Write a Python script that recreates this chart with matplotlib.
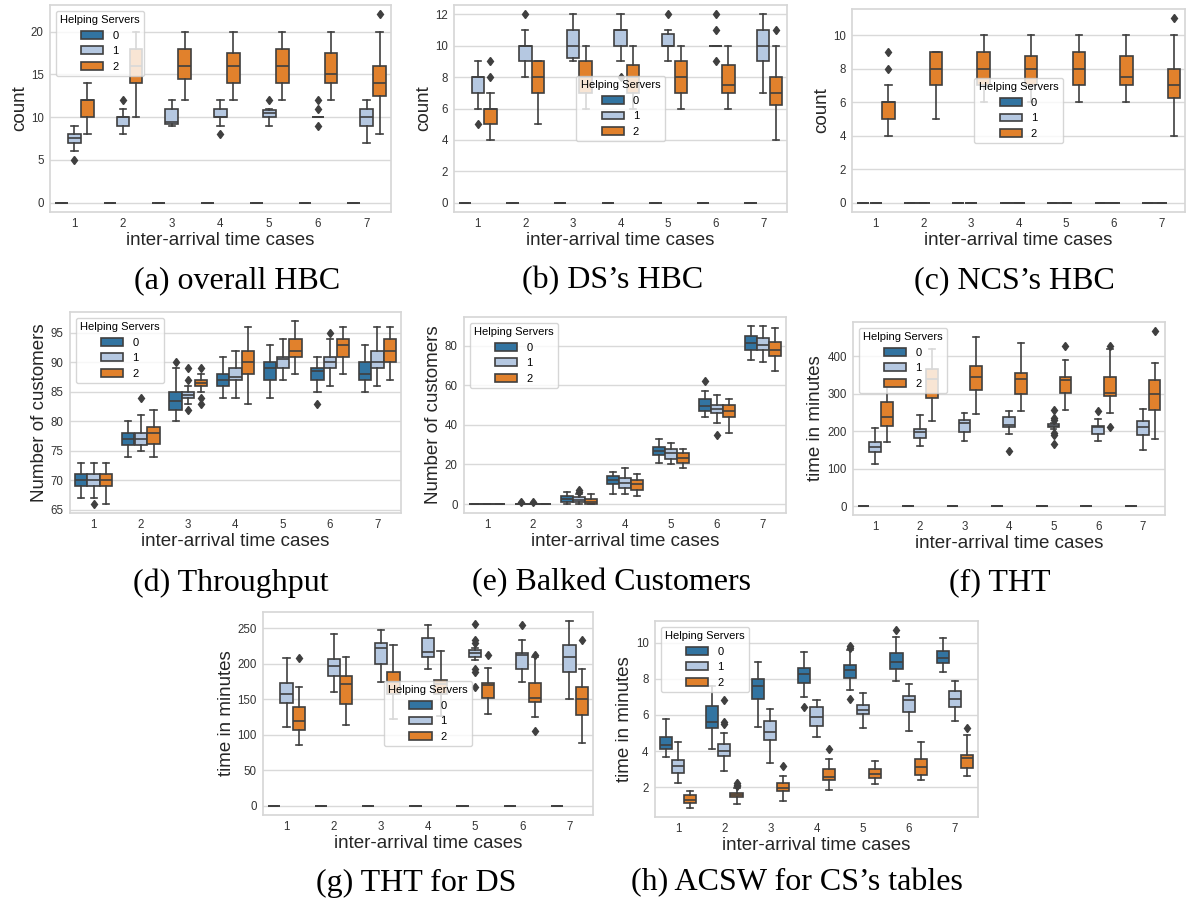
import colorsys
import matplotlib
matplotlib.use("Agg")
import matplotlib.pyplot as plt
import matplotlib.colors as mcolors
from matplotlib.patches import Patch

cases = ["1", "2", "3", "4", "5", "6", "7"]
servers = ["0", "1", "2"]

# each row: (whislo, q1, median, q3, whishi, fliers), one row per case
NO_HELP = [
    (0, 0, 0, 0, 0, []),
    (0, 0, 0, 0, 0, []),
    (0, 0, 0, 0, 0, []),
    (0, 0, 0, 0, 0, []),
    (0, 0, 0, 0, 0, []),
    (0, 0, 0, 0, 0, []),
    (0, 0, 0, 0, 0, []),
]

# (a) overall HBC
hbc_all_1 = [
    (6, 7, 7.5, 8, 9, [5]),
    (8, 9, 10, 10, 11, [12]),
    (9, 9.2, 9.4, 11, 12, []),
    (9, 10, 10, 11, 12, [8]),
    (9, 10, 10.5, 10.8, 11, [12]),
    (10, 10, 10, 10, 10, [9, 11, 12]),
    (7, 9, 10, 11, 12, []),
]
hbc_all_2 = [
    (8, 10, 12, 12, 14, []),
    (10, 14, 16, 18, 20, []),
    (12, 14.5, 16, 18, 20, []),
    (12, 14, 16, 17.5, 20, []),
    (12, 14, 16, 18, 20, []),
    (12, 14, 15, 17.5, 20, []),
    (8, 12.5, 14, 16, 20, [22]),
]

# (b) DS's HBC
hbc_ds_1 = [
    (6, 7, 8, 8, 9, [5]),
    (8, 9, 10, 10, 11, [12]),
    (9, 9.2, 10, 11, 12, []),
    (9, 10, 11, 11, 12, [8]),
    (9, 10, 10, 10.75, 11, [12]),
    (10, 10, 10, 10, 10, [9, 11, 12]),
    (7, 9, 10, 11, 12, []),
]
hbc_ds_2 = [
    (4, 5, 6, 6, 7, [8, 9]),
    (5, 7, 8, 9, 9, []),
    (6, 7, 8, 9, 10, []),
    (6, 7, 8, 8.75, 10, []),
    (6, 7, 8, 9, 10, []),
    (6, 7, 7.5, 8.75, 10, []),
    (4, 6.25, 7, 8, 10, [11]),
]

# (c) NCS's HBC
hbc_ncs_2 = [
    (4, 5, 6, 6, 7, [8, 9]),
    (5, 7, 8, 9, 9, []),
    (6, 7, 8, 9, 10, []),
    (6, 7, 8, 8.75, 10, []),
    (6, 7, 8, 9, 10, []),
    (6, 7, 7.5, 8.75, 10, []),
    (4, 6.25, 7, 8, 10, [11]),
]

# (d) Throughput
thr_0 = [
    (67, 69, 70, 71, 73, []),
    (74, 76, 77, 78, 80, []),
    (80, 82, 83.5, 85, 89, [90]),
    (84, 86, 87, 88, 91, []),
    (84, 87, 89, 90, 93, []),
    (85, 87, 88.5, 89, 91, [83]),
    (85, 87, 88, 90, 93, []),
]
thr_1 = [
    (67, 69, 70, 71, 73, [66]),
    (75, 76, 77, 78, 81, [84]),
    (83, 84, 84.5, 85, 86, [82, 87, 89]),
    (84, 87, 87.5, 89, 92, []),
    (87, 89, 90.5, 91, 94, []),
    (86, 89, 90, 91, 94, [95]),
    (86, 89, 90, 92, 96, []),
]
thr_2 = [
    (66, 69, 70, 71, 73, []),
    (74, 76.2, 78, 79, 82, []),
    (85, 86, 86.5, 87, 88, [83, 84, 89]),
    (83, 88, 90, 92, 96, []),
    (88, 91, 92, 94, 97, []),
    (88, 91, 93, 94, 96, []),
    (87, 90, 92, 94, 96, []),
]

# (e) Balked Customers
balk_0 = [
    (0, 0, 0, 0, 0, []),
    (0, 0, 0, 0, 0, [1]),
    (0, 1, 2.5, 4, 6, []),
    (5, 10, 12, 14, 16, []),
    (21, 25, 27, 29, 33, []),
    (44, 47, 49.5, 53, 57, [62]),
    (73, 78, 81.5, 85, 90, []),
]
balk_1 = [
    (0, 0, 0, 0, 0, []),
    (0, 0, 0, 0, 0, [1]),
    (0, 1, 2, 3.5, 5, [6, 7]),
    (5, 8, 10.5, 13, 18, []),
    (20, 23, 26, 28, 31, []),
    (41, 46, 48, 50, 55, [35]),
    (72, 78, 80.5, 84, 90, []),
]
balk_2 = [
    (0, 0, 0, 0, 0, []),
    (0, 0, 0, 0, 0, []),
    (0, 0, 1, 2.5, 5, []),
    (4, 7, 10, 12, 15, []),
    (18, 21, 23.5, 26, 28, []),
    (36, 44, 47, 50, 53, []),
    (67, 75, 78, 82, 89, []),
]

# (f) THT
tht_1 = [
    (113, 145, 157, 172, 208, []),
    (160, 182, 197, 205, 243, []),
    (174, 199, 222, 230, 248, []),
    (193, 210, 216, 237, 255, [146]),
    (205, 210, 214, 219, 222, [167, 189, 194, 231, 235, 257]),
    (174, 192, 212, 215, 234, [255]),
    (150, 190, 210, 227, 260, []),
]
tht_2 = [
    (171, 213, 238, 279, 335, []),
    (226, 289, 340, 366, 420, []),
    (246, 309, 346, 375, 452, []),
    (253, 300, 339, 355, 436, []),
    (258, 302, 337, 345, 390, [427]),
    (250, 293, 302, 345, 420, [212, 428]),
    (178, 257, 300, 337, 383, [468]),
]

# (g) THT for DS
tht_ds_1 = [
    (111, 145, 157, 173, 208, []),
    (160, 183, 197, 207, 242, []),
    (175, 200, 222, 230, 247, []),
    (193, 210, 217, 236, 255, []),
    (205, 210, 215, 220, 222, [168, 189, 193, 230, 234, 256]),
    (174, 192, 212, 215, 234, [255]),
    (150, 189, 210, 227, 260, []),
]
tht_ds_2 = [
    (86, 107, 119, 139, 167, [208]),
    (114, 143, 171, 183, 210, []),
    (122, 157, 175, 188, 227, []),
    (127, 157, 172, 177, 218, []),
    (130, 152, 170, 173, 194, [213]),
    (125, 146, 152, 173, 210, [105, 213]),
    (89, 128, 150, 168, 192, [234]),
]

# (h) ACSW for CS's tables
acsw_0 = [
    (3.7, 4.1, 4.35, 4.8, 5.75, []),
    (4.1, 5.3, 5.6, 6.5, 7.6, []),
    (5.35, 6.9, 7.6, 8.0, 8.9, []),
    (7.0, 7.75, 8.25, 8.6, 9.5, [6.45]),
    (7.4, 8.05, 8.5, 8.75, 9.6, [6.9, 9.7, 9.8]),
    (7.9, 8.55, 8.95, 9.4, 10.3, [10.7]),
    (8.35, 8.85, 9.15, 9.55, 10.25, []),
]
acsw_1 = [
    (2.25, 2.8, 3.2, 3.5, 4.5, []),
    (2.9, 3.75, 4.0, 4.4, 5.0, [5.5, 5.6, 6.85]),
    (3.35, 4.6, 5.05, 5.65, 6.35, []),
    (4.8, 5.4, 5.9, 6.45, 6.85, []),
    (5.3, 6.05, 6.25, 6.55, 7.2, []),
    (5.1, 6.15, 6.8, 7.05, 7.7, []),
    (5.65, 6.45, 6.9, 7.35, 7.9, []),
]
acsw_2 = [
    (0.85, 1.15, 1.3, 1.55, 1.8, []),
    (1.1, 1.45, 1.55, 1.7, 1.95, [2.05, 2.15, 2.25]),
    (1.25, 1.8, 1.95, 2.25, 2.6, [3.2]),
    (1.85, 2.4, 2.55, 3.0, 3.55, [4.1]),
    (2.2, 2.5, 2.75, 3.0, 3.45, []),
    (2.4, 2.7, 3.1, 3.55, 4.5, []),
    (2.6, 3.05, 3.6, 3.8, 4.9, [5.25]),
]


def desaturate(color, prop=0.75):
    h, l, s = colorsys.rgb_to_hls(*mcolors.to_rgb(color))
    return colorsys.hls_to_rgb(h, l, s * prop)


box_colors = [desaturate(c) for c in ["#1f77b4", "#aec7e8", "#ff7f0e"]]
edge = "#3f3f3f"
lw = 1.2
sans = "Liberation Sans"
W, H = 1191, 909

plt.rcParams["font.family"] = sans

fig = plt.figure(figsize=(W / 100, H / 100), dpi=100)


def panel(box_px, series, ylabel, legend_loc, caption, cap_xy):
    left, top, right, bottom = box_px
    ax = fig.add_axes([left / W, 1 - bottom / H, (right - left) / W, (bottom - top) / H])
    step = 0.8 / 3
    for h, rows in enumerate(series):
        stats = [dict(whislo=r[0], q1=r[1], med=r[2], q3=r[3], whishi=r[4], fliers=r[5])
                 for r in rows]
        pos = [i + (h - 1) * step for i in range(len(rows))]
        ax.bxp(stats, positions=pos, widths=step * 0.98, patch_artist=True,
               manage_ticks=False,
               boxprops=dict(facecolor=box_colors[h], edgecolor=edge, linewidth=lw),
               medianprops=dict(color=edge, linewidth=lw),
               whiskerprops=dict(color=edge, linewidth=lw),
               capprops=dict(color=edge, linewidth=lw),
               flierprops=dict(marker="d", markerfacecolor=edge, markeredgecolor=edge,
                               markersize=4.5))
    ax.set_xlim(-0.5, 6.5)
    ax.set_xticks(range(len(cases)))
    ax.set_xticklabels(cases)
    ax.set_facecolor("white")
    ax.yaxis.grid(True, color="#d9d9d9", linewidth=1.0)
    ax.xaxis.grid(False)
    ax.set_axisbelow(True)
    for s in ax.spines.values():
        s.set_color("#d6d6d6")
        s.set_linewidth(1.2)
    ax.tick_params(length=0, labelsize=8.3, labelcolor="#333333", pad=4.5)
    ax.set_xlabel("inter-arrival time cases", fontsize=13.5, color="#262626", labelpad=1)
    ax.set_ylabel(ylabel, fontsize=13.5, color="#262626", labelpad=2)
    handles = [Patch(facecolor=box_colors[i], edgecolor=edge, linewidth=lw, label=servers[i])
               for i in range(3)]
    leg = ax.legend(handles=handles, title="Helping Servers", loc=legend_loc,
                    fontsize=8, title_fontsize=8, framealpha=0.8, edgecolor="#cccccc")
    leg.set_zorder(10)
    fig.text(cap_xy[0] / W, 1 - cap_xy[1] / H, caption, family="Liberation Serif",
             fontsize=23, ha="center", va="center")
    return ax


panel((50, 5, 391, 212), [NO_HELP, hbc_all_1, hbc_all_2], "count", "upper left",
      "(a) overall HBC", (237, 281))
panel((454, 5, 787, 212), [NO_HELP, hbc_ds_1, hbc_ds_2], "count", "center",
      "(b) DS\u2019s HBC", (613, 281))
panel((852, 9, 1185, 212), [NO_HELP, NO_HELP, hbc_ncs_2], "count", "center",
      "(c) NCS\u2019s HBC", (1014, 281))
panel((70, 312, 401, 513), [thr_0, thr_1, thr_2], "Number of customers", "upper left",
      "(d) Throughput", (231, 583))
panel((464, 317, 786, 513), [balk_0, balk_1, balk_2], "Number of customers", "upper left",
      "(e) Balked Customers", (611, 583))
panel((853, 322, 1165, 515), [NO_HELP, tht_1, tht_2], "time in minutes", "upper left",
      "(f) THT", (1000, 583))
panel((263, 612, 593, 815), [NO_HELP, tht_ds_1, tht_ds_2], "time in minutes", "center",
      "(g) THT for DS", (416, 883))
panel((655, 621, 978, 817), [acsw_0, acsw_1, acsw_2], "time in minutes", "upper left",
      "(h) ACSW for CS\u2019s tables", (797, 883))

fig.savefig("out.png", dpi=100, facecolor="white")
